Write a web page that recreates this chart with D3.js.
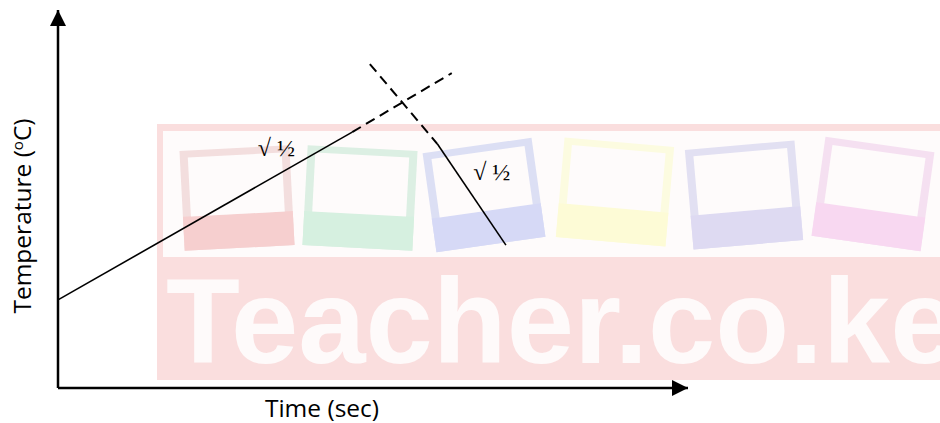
<!DOCTYPE html>
<html>
<head>
<meta charset="utf-8">
<script src="https://cdn.jsdelivr.net/npm/d3@7"></script>
<style>
  html, body { margin: 0; padding: 0; background: #fff; overflow: hidden; }
  svg { display: block; }
</style>
</head>
<body>
<div id="chart"></div>
<script>
// Sketch data (arbitrary units, 0-10 on both axes)
var heatSolid = [{t: 0, temp: 2.33}, {t: 4.67, temp: 6.77}];
var heatDashed = [{t: 4.67, temp: 6.77}, {t: 6.25, temp: 8.33}];
var coolDashed = [{t: 4.95, temp: 8.57}, {t: 6.02, temp: 6.46}];
var coolSolid = [{t: 6.02, temp: 6.46}, {t: 7.11, temp: 3.78}];
var markLabels = [{t: 3.17, temp: 6.14, text: "√ ½"}, {t: 6.59, temp: 5.50, text: "√ ½"}];
var xTitle = "Time (sec)";
var yTitle = "Temperature (";

// watermark frames: edge colour, band colour
var frameEdge = ["#f3dede", "#dcefe3", "#dcdff4", "#fcfbe0", "#e2e0f2", "#f5e0f1"];
var frameBand = ["#f6cfcf", "#d6f0e0", "#d6d9f6", "#fdfbd6", "#dedaf2", "#f8d8f1"];

var svgWidth = 940;
var svgHeight = 423;

var svg = d3.select("#chart").append("svg")
    .attr("width", svgWidth)
    .attr("height", svgHeight);

// Watermark background
var wm = svg.append("g").attr("class", "watermark");
wm.append("rect")
    .attr("x", 157).attr("y", 124)
    .attr("width", 783).attr("height", 256)
    .attr("fill", "#fadede");
wm.append("rect")
    .attr("x", 163).attr("y", 131)
    .attr("width", 777).attr("height", 126)
    .attr("fill", "#fefbfb");

var framePos = [[237, 198, -3], [360, 198, 3], [484, 195, -8], [615, 192, 5], [744, 195, -5], [873, 194, 8]];
framePos.forEach(function(p, i) {
    var g = wm.append("g")
        .attr("transform", `translate(${p[0]},${p[1]}) rotate(${p[2]})`);
    g.append("rect")
        .attr("x", -55).attr("y", -50)
        .attr("width", 110).attr("height", 100)
        .attr("fill", frameEdge[i]);
    g.append("rect")
        .attr("x", -55).attr("y", 16)
        .attr("width", 110).attr("height", 34)
        .attr("fill", frameBand[i]);
    g.append("rect")
        .attr("x", -47).attr("y", -43)
        .attr("width", 94).attr("height", 59)
        .attr("fill", "#fefbfb");
});

wm.append("text")
    .attr("x", 166)
    .attr("y", 363)
    .attr("fill", "#fefafa")
    .style("font-family", "Liberation Sans, Arial, sans-serif")
    .style("font-weight", "bold")
    .style("font-size", "121px")
    .text("Teacher.co.ke");

// Scales
var x = d3.scaleLinear().domain([0, 10]).range([58, 688]);
var y = d3.scaleLinear().domain([0, 10]).range([388, 10]);

// Arrow marker
var defs = svg.append("defs");
defs.append("marker")
    .attr("id", "arrow")
    .attr("viewBox", "0 0 10 10")
    .attr("refX", 10)
    .attr("refY", 5)
    .attr("markerWidth", 16)
    .attr("markerHeight", 16)
    .attr("markerUnits", "userSpaceOnUse")
    .attr("orient", "auto")
    .append("path")
    .attr("d", "M0,0 L10,5 L0,10 Z")
    .attr("fill", "#000");

// Axes
svg.append("line")
    .attr("x1", x(0)).attr("y1", y(0))
    .attr("x2", x(0)).attr("y2", y(10))
    .attr("stroke", "#000")
    .attr("stroke-width", 2.5)
    .attr("marker-end", "url(#arrow)");

svg.append("line")
    .attr("x1", x(0)).attr("y1", y(0))
    .attr("x2", x(10)).attr("y2", y(0))
    .attr("stroke", "#000")
    .attr("stroke-width", 2.5)
    .attr("marker-end", "url(#arrow)");

// Lines
var line = d3.line()
    .x(d => x(d.t))
    .y(d => y(d.temp));

[heatSolid, coolSolid].forEach(function(d) {
    svg.append("path")
        .datum(d)
        .attr("d", line)
        .attr("fill", "none")
        .attr("stroke", "#000")
        .attr("stroke-width", 1.6);
});

[heatDashed, coolDashed].forEach(function(d) {
    svg.append("path")
        .datum(d)
        .attr("d", line)
        .attr("fill", "none")
        .attr("stroke", "#000")
        .attr("stroke-width", 2)
        .attr("stroke-dasharray", "10,6");
});

// Tick mark labels
svg.selectAll(".mark-label")
    .data(markLabels)
    .enter()
    .append("text")
    .attr("class", "mark-label")
    .attr("x", d => x(d.t))
    .attr("y", d => y(d.temp))
    .style("font-family", "Liberation Serif, serif")
    .style("font-size", "24px")
    .text(d => d.text);

// Axis titles
svg.append("text")
    .attr("x", 322)
    .attr("y", 417)
    .attr("text-anchor", "middle")
    .style("font-family", "Open Sans, sans-serif")
    .style("font-size", "24.5px")
    .text(xTitle);

var yt = svg.append("text")
    .attr("transform", "translate(31, 216) rotate(-90)")
    .attr("text-anchor", "middle")
    .style("font-family", "Open Sans, sans-serif")
    .style("font-size", "24.5px");
yt.append("tspan").text(yTitle);
yt.append("tspan").attr("dy", -8).style("font-size", "15px").text("o");
yt.append("tspan").attr("dy", 8).text("C)");
</script>
</body>
</html>
